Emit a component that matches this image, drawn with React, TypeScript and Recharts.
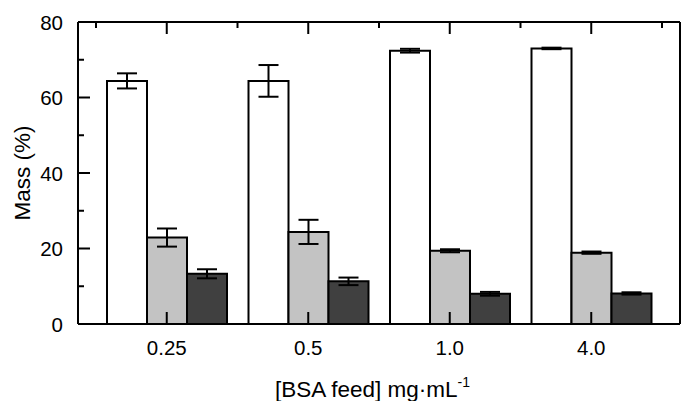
import React from 'react';
import { BarChart, Bar, XAxis, YAxis, ErrorBar } from 'recharts';

const categories = ['0.25', '0.5', '1.0', '4.0'];
const positions = [1, 2, 3, 4];
const whiteMass = [64.4, 64.4, 72.4, 73.0];
const whiteErr = [2.0, 4.2, 0.5, 0.2];
const greyMass = [22.9, 24.4, 19.4, 18.9];
const greyErr = [2.4, 3.2, 0.4, 0.3];
const darkMass = [13.3, 11.3, 8.0, 8.1];
const darkErr = [1.2, 1.0, 0.5, 0.3];

const yTicks = [0, 10, 20, 30, 40, 50, 60, 70, 80];
const topTicks = [0.5, 1, 1.5, 2, 2.5, 3, 3.5, 4, 4.5];

const data = categories.map((c, i) => ({
  name: c,
  pos: positions[i],
  white: whiteMass[i],
  whiteErr: whiteErr[i],
  grey: greyMass[i],
  greyErr: greyErr[i],
  dark: darkMass[i],
  darkErr: darkErr[i],
}));

const FONT = '"Liberation Sans", Arial, sans-serif';
const tickFont = { fontSize: 20.5, fill: '#000', fontFamily: FONT };
const blackLine = { stroke: '#000', strokeWidth: 2 };

const renderLeftTick = (props: any) => {
  const { x, y, payload } = props;
  const major = payload.value % 20 === 0;
  return (
    <g>
      <line x1={x} y1={y} x2={x + (major ? 12 : 6)} y2={y} stroke="#000" strokeWidth={2} />
      {major && (
        <text x={x - 15} y={y + 7.5} textAnchor="end" fontSize={20.5} fontFamily={FONT} fill="#000">
          {payload.value}
        </text>
      )}
    </g>
  );
};

const renderRightTick = (props: any) => {
  const { x, y, payload } = props;
  const major = payload.value % 20 === 0;
  return <line x1={x} y1={y} x2={x - (major ? 12 : 6)} y2={y} stroke="#000" strokeWidth={2} />;
};

const renderTopTick = (props: any) => {
  const { x, y, payload } = props;
  const major = Number.isInteger(payload.value);
  return <line x1={x} y1={y} x2={x} y2={y + (major ? 12 : 6)} stroke="#000" strokeWidth={2} />;
};

const renderYLabel = (props: any) => {
  const { viewBox } = props;
  const cx = 30;
  const cy = viewBox.y + viewBox.height / 2;
  return (
    <text x={cx} y={cy} transform={`rotate(-90 ${cx} ${cy})`} textAnchor="middle" fontSize={22.5} fontFamily={FONT} fill="#000">
      Mass (%)
    </text>
  );
};

const renderXLabel = (props: any) => {
  const { viewBox } = props;
  return (
    <text x={275} y={viewBox.y + 72.5} textAnchor="start" fontSize={22.5} fontFamily={FONT} fill="#000">
      [BSA feed] mg·mL
      <tspan dy={-10} fontSize={14}>-1</tspan>
    </text>
  );
};

export default function App() {
  return (
    <div style={{ position: 'absolute', left: 0, top: 0, width: 681, height: 401, background: '#fff' }}>
      <BarChart width={681} height={401} data={data} margin={{ top: 2, right: 1, bottom: 0, left: 0 }} barGap={0}>
        <Bar dataKey="white" xAxisId="cat" yAxisId="left" fill="#ffffff" stroke="#000" strokeWidth={2} barSize={40} isAnimationActive={false}>
          <ErrorBar dataKey="whiteErr" width={10} stroke="#000" strokeWidth={2} direction="y" />
        </Bar>
        <Bar dataKey="grey" xAxisId="cat" yAxisId="left" fill="#c3c3c3" stroke="#000" strokeWidth={2} barSize={40} isAnimationActive={false}>
          <ErrorBar dataKey="greyErr" width={10} stroke="#000" strokeWidth={2} direction="y" />
        </Bar>
        <Bar dataKey="dark" xAxisId="cat" yAxisId="left" fill="#404040" stroke="#000" strokeWidth={2} barSize={40} isAnimationActive={false}>
          <ErrorBar dataKey="darkErr" width={10} stroke="#000" strokeWidth={2} direction="y" />
        </Bar>
        <XAxis
          xAxisId="cat"
          dataKey="name"
          height={77}
          padding={{ left: 18, right: 18 }}
          tickSize={-12}
          tickMargin={28}
          tick={tickFont}
          tickLine={blackLine}
          axisLine={blackLine}
          label={{ content: renderXLabel }}
        />
        <XAxis
          xAxisId="top"
          orientation="top"
          dataKey="pos"
          type="number"
          domain={[0.3728, 4.6272]}
          allowDataOverflow
          ticks={topTicks}
          height={20}
          tickSize={0}
          tickMargin={0}
          tick={renderTopTick}
          tickLine={false}
          axisLine={blackLine}
        />
        <YAxis
          yAxisId="left"
          domain={[0, 80]}
          ticks={yTicks}
          width={78}
          tickSize={0}
          tickMargin={0}
          tick={renderLeftTick}
          tickLine={false}
          axisLine={blackLine}
          label={{ content: renderYLabel }}
        />
        <YAxis
          yAxisId="right"
          orientation="right"
          mirror
          domain={[0, 80]}
          ticks={yTicks}
          tickSize={0}
          tickMargin={0}
          tick={renderRightTick}
          tickLine={false}
          axisLine={blackLine}
        />
      </BarChart>
    </div>
  );
}
